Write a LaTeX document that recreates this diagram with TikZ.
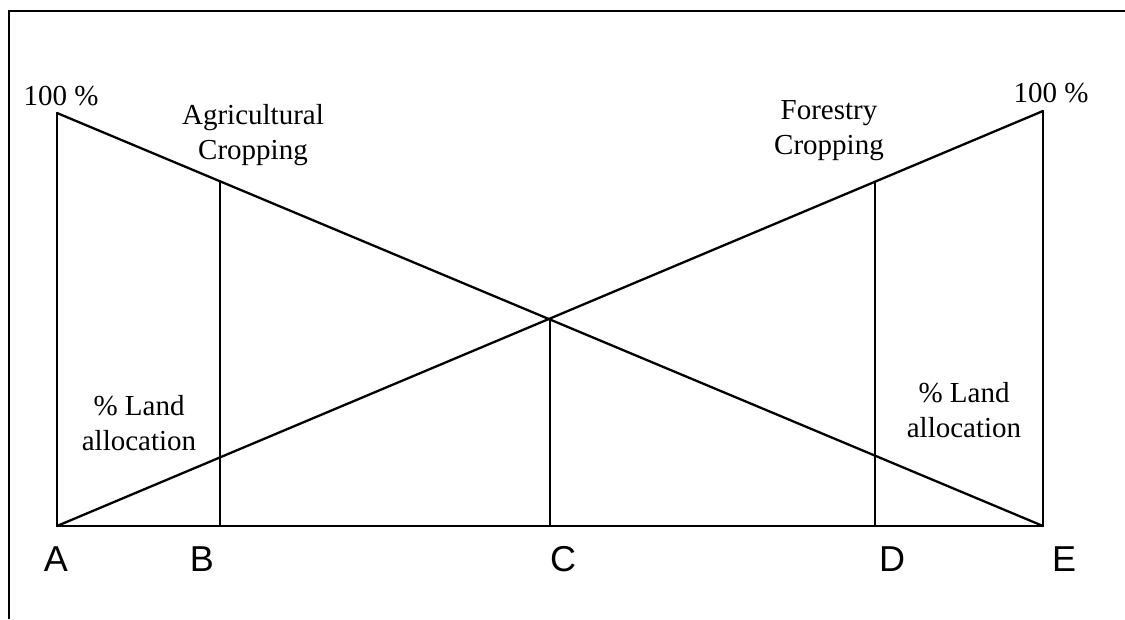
\documentclass[tikz,border=0pt]{standalone}
\usepackage{fontspec}
\usetikzlibrary{calc}
\setmainfont{Liberation Serif}
\newfontfamily\letterfont{Liberation Sans}
\begin{document}
\begin{tikzpicture}[x=1pt,y=-1pt,
  ln/.style={line width=2.3pt,line cap=round,line join=round},
  frame/.style={line width=2.8pt},
  lbl/.style={font=\fontsize{29}{35}\selectfont,align=center,inner sep=0pt},
  pt/.style={font=\letterfont\fontsize{36}{40}\selectfont,inner sep=0pt,anchor=base}]
\useasboundingbox (0,0) rectangle (1125,619);
% frame (left and top edges)
\coordinate (f1) at (9,619);
\coordinate (f2) at (9,11);
\coordinate (f3) at (1125,11);
\draw[frame] (f1) -- (f2) -- (f3);
% key points
\coordinate (A) at (57,526);
\coordinate (E) at (1043,526);
\coordinate (Atop) at (57,113);
\coordinate (Etop) at (1043,111);
\coordinate (Bb) at (220,526);
\coordinate (Cb) at (550,526);
\coordinate (Db) at (875,526);
\coordinate (Bt) at ($(Atop)!0.1653!(E)$);
\coordinate (Ct) at (intersection of Atop--E and A--Etop);
\coordinate (Dt) at ($(A)!0.8296!(Etop)$);
\draw[ln] (A) -- (E);
\draw[ln] (A) -- (Atop);
\draw[ln] (E) -- (Etop);
\draw[ln] (Atop) -- (E);
\draw[ln] (A) -- (Etop);
\draw[ln] (Bb) -- (Bb |- Bt);
\draw[ln] (Cb) -- (Cb |- Ct);
\draw[ln] (Db) -- (Db |- Dt);
% texts
\node[lbl,anchor=base] (pl) at (61,105) {100 \%};
\node[lbl,anchor=base] (pr) at (1051,102) {100 \%};
\node[lbl] (agr) at (253,135) {Agricultural\\Cropping};
\node[lbl] (for) at (829,131) {Forestry\\Cropping};
\node[lbl] (landl) at (139,423) {\% Land\\allocation};
\node[lbl] (landr) at (964,410) {\% Land\\allocation};
\node[pt] (la) at (56,571) {A};
\node[pt] (lb) at (202,571) {B};
\node[pt] (lc) at (563,571) {C};
\node[pt] (ld) at (892,571) {D};
\node[pt] (le) at (1064,571) {E};
\end{tikzpicture}
\end{document}
